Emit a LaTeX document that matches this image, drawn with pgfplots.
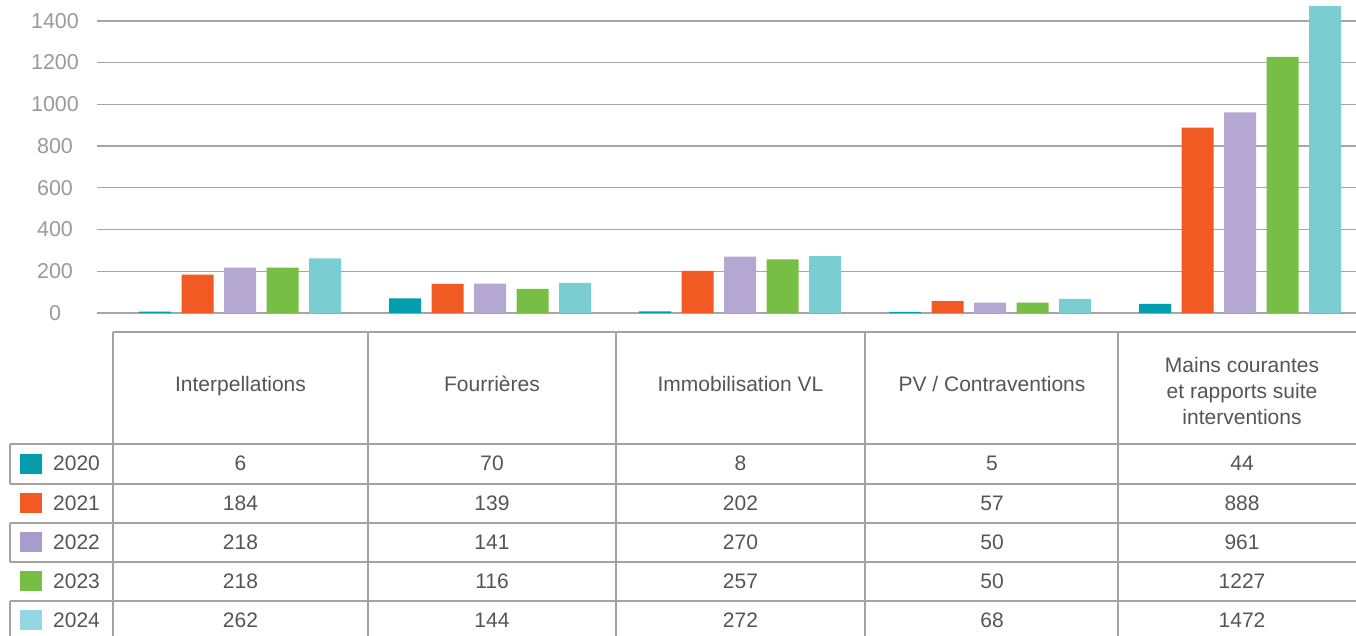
\documentclass[border=0pt]{standalone}
\usepackage{pgfplots}
\pgfplotsset{compat=1.18}
\usepackage{fontspec}
\setmainfont{Liberation Sans}
\definecolor{c20}{HTML}{009EAF}
\definecolor{c21}{HTML}{F15A22}
\definecolor{c22}{HTML}{B4A8D3}
\definecolor{c23}{HTML}{76BF44}
\definecolor{c24}{HTML}{7ACDD0}
\definecolor{l22}{HTML}{A99BCB}
\definecolor{l24}{HTML}{93D7E2}
\definecolor{gridc}{HTML}{A6A6A6}
\definecolor{tickc}{HTML}{9A9A9A}
\definecolor{txt}{HTML}{555555}
\definecolor{linec}{HTML}{A3A3A3}
\begin{document}
\begin{tikzpicture}[x=1pt,y=1pt]
\path[use as bounding box] (0,0) rectangle (1356,636);
\begin{axis}[
  at={(97pt,323pt)}, anchor=south west,
  scale only axis, width=1259pt, height=313pt,
  xmin=-0.572, xmax=4.464, ymin=0, ymax=1500,
  ybar=10.5pt, bar width=32pt,
  axis line style={draw=none},
  xtick=\empty, ytick={0,200,...,1400},
  major tick length=0pt,
  ymajorgrids, grid style={draw=gridc, line width=1.4pt},
  yticklabel style={anchor=center, xshift=-42pt, font=\fontsize{21.5}{26}\selectfont, text=tickc},
  /pgf/number format/assume math mode=true,
  /pgf/number format/1000 sep={},
  clip=false,
]
\addplot[fill=c20, draw=none] coordinates {(0,6) (1,70) (2,8) (3,5) (4,44)};
\addplot[fill=c21, draw=none] coordinates {(0,184) (1,139) (2,202) (3,57) (4,888)};
\addplot[fill=c22, draw=none] coordinates {(0,218) (1,141) (2,270) (3,50) (4,961)};
\addplot[fill=c23, draw=none] coordinates {(0,218) (1,116) (2,257) (3,50) (4,1227)};
\addplot[fill=c24, draw=none] coordinates {(0,262) (1,144) (2,272) (3,68) (4,1472)};
\end{axis}
% table grid
\begin{scope}[draw=linec, line width=1.4pt]
\draw (113,304) -- (1356,304);
\foreach \yy in {192,152,113,74,35} \draw (10,\yy) -- (1356,\yy);
\foreach \xx in {113,368,616,865,1118} \draw (\xx,304) -- (\xx,0);
\draw (10,192) -- (10,152);
\draw (10,113) -- (10,74);
\draw (10,35) -- (10,0);
\end{scope}
% headers
\begin{scope}[every node/.style={font=\fontsize{21}{26}\selectfont, text=txt, inner sep=0pt}]
\node[anchor=base] at (240.5,244) {Interpellations};
\node[anchor=base] at (492,244) {Fourrières};
\node[anchor=base] at (740.5,244) {Immobilisation VL};
\node[anchor=base] at (992,244) {PV / Contraventions};
\node[anchor=base] at (1242,263) {Mains courantes};
\node[anchor=base] at (1242,237) {et rapports suite};
\node[anchor=base] at (1242,211) {interventions};
% legend column
\fill[c20] (20,162) rectangle (42,182);
\fill[c21] (20,123) rectangle (42,143);
\fill[l22] (20,84) rectangle (42,104);
\fill[c23] (20,45) rectangle (42,65);
\fill[l24] (20,6) rectangle (42,26);
\node[anchor=base west] at (53,165) {2020};
\node[anchor=base west] at (53,125) {2021};
\node[anchor=base west] at (53,86) {2022};
\node[anchor=base west] at (53,47) {2023};
\node[anchor=base west] at (53,8) {2024};
% values
\foreach \v [count=\i from 0] in {6,70,8,5,44} {\pgfmathsetmacro\cx{{240.5,492,740.5,992,1242}[\i]}\node[anchor=base] at (\cx,165) {\v};}
\foreach \v [count=\i from 0] in {184,139,202,57,888} {\pgfmathsetmacro\cx{{240.5,492,740.5,992,1242}[\i]}\node[anchor=base] at (\cx,125) {\v};}
\foreach \v [count=\i from 0] in {218,141,270,50,961} {\pgfmathsetmacro\cx{{240.5,492,740.5,992,1242}[\i]}\node[anchor=base] at (\cx,86) {\v};}
\foreach \v [count=\i from 0] in {218,116,257,50,1227} {\pgfmathsetmacro\cx{{240.5,492,740.5,992,1242}[\i]}\node[anchor=base] at (\cx,47) {\v};}
\foreach \v [count=\i from 0] in {262,144,272,68,1472} {\pgfmathsetmacro\cx{{240.5,492,740.5,992,1242}[\i]}\node[anchor=base] at (\cx,8) {\v};}
\end{scope}
\end{tikzpicture}
\end{document}
